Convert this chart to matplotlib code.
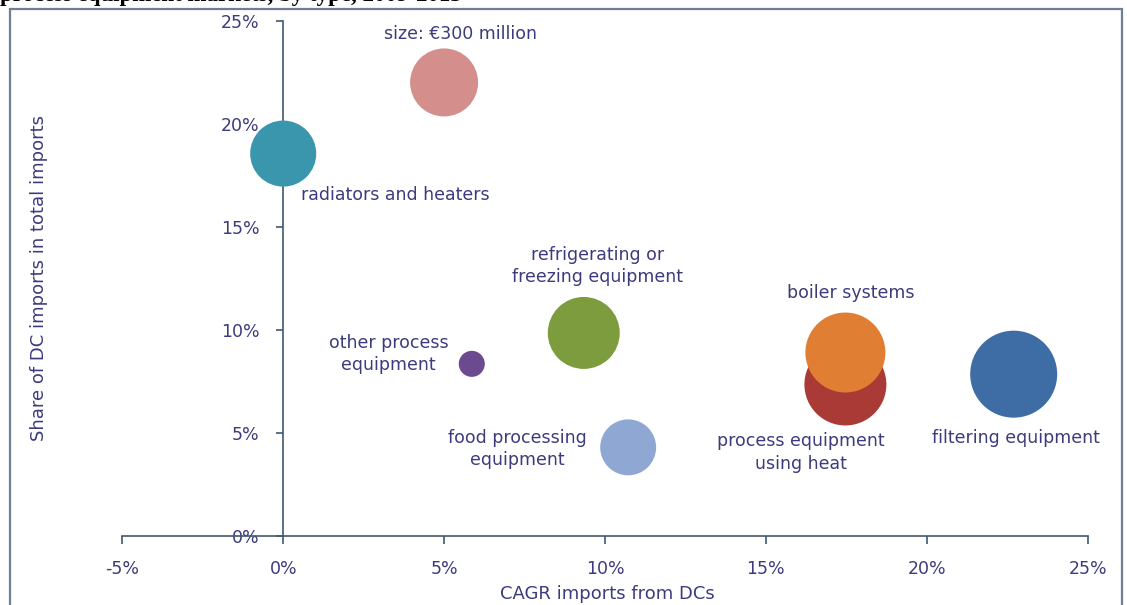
import matplotlib.pyplot as plt
from matplotlib.patches import Rectangle
from matplotlib.ticker import FuncFormatter

# bubble data: CAGR of imports from DCs (%), share of DC imports (%), size (EUR million)
namen = ["size: €300 million", "radiators and heaters", "other process\nequipment",
         "refrigerating or\nfreezing equipment", "food processing\nequipment",
         "process equipment\nusing heat", "boiler systems", "filtering equipment"]
cagr = [5.0, 0.0, 5.86, 9.34, 10.72, 17.47, 17.47, 22.7]
anteil = [22.0, 18.55, 8.35, 9.85, 4.3, 7.35, 8.9, 7.85]
groesse = [300, 283, 44, 336, 203, 436, 415, 491]
farben = ["#d48e8c", "#3a96ad", "#6b4a90", "#7c9c3d", "#8ea7d3", "#a93a36", "#e07e33", "#3e6ca5"]

# label placement (offset in points from the bubble centre, alignment)
label_pos = [
    (11.5, 35, "center"),
    (12.5, -30, "left"),
    (-60, 7, "center"),
    (10, 48, "center"),
    (-80, -1, "center"),
    (-32, -49, "center"),
    (3.6, 43, "center"),
    (1.5, -46, "center"),
]

textfarbe = "#3b3b7e"
achsfarbe = "#3f5a70"
fs = 12.5

fig = plt.figure(figsize=(11.27, 6.05), dpi=100)
fig.patch.set_facecolor("white")

# frame around the chart
fig.patches.append(Rectangle((10 / 1127, -0.05), 1112 / 1127, 1 - 9 / 605 + 0.05,
                             transform=fig.transFigure, fill=False,
                             edgecolor="#6e7f92", linewidth=1.6))
fig.text(0.0, 1 - 1.5 / 605, "process equipment markets, by type, 2009-2013",
         family="Liberation Serif", weight="bold", fontsize=16.5, color="black",
         va="baseline", ha="left")

ax = fig.add_axes([122.3 / 1127, 1 - 536 / 605, (1087.7 - 122.3) / 1127, (536 - 20.6) / 605])
ax.set_xlim(-5, 25)
ax.set_ylim(0, 25)

skala = 2397 / 300
ax.scatter(cagr, anteil, s=[g * skala for g in groesse], c=farben, linewidths=0,
           clip_on=False, zorder=3)

for name, x, y, (dx, dy, ha) in zip(namen, cagr, anteil, label_pos):
    ax.annotate(name, (x, y), xytext=(dx, dy), textcoords="offset points",
                ha=ha, va="center", fontsize=fs, color=textfarbe,
                linespacing=1.3, zorder=4)

for seite in ["top", "right"]:
    ax.spines[seite].set_visible(False)
ax.spines["left"].set_position(("data", 0))
for seite in ["left", "bottom"]:
    ax.spines[seite].set_color(achsfarbe)
    ax.spines[seite].set_linewidth(1.2)

ax.set_xticks(range(-5, 30, 5))
ax.set_yticks(range(0, 30, 5))
prozent = FuncFormatter(lambda v, p: f"{v:.0f}%")
ax.xaxis.set_major_formatter(prozent)
ax.yaxis.set_major_formatter(prozent)
ax.tick_params(axis="x", direction="out", length=6, width=1.2, color=achsfarbe,
               labelcolor=textfarbe, labelsize=fs, pad=11)
ax.tick_params(axis="y", direction="out", length=5, width=1.2, color=achsfarbe,
               labelcolor=textfarbe, labelsize=fs, pad=12)

ax.set_xlabel("CAGR imports from DCs", fontsize=13, color=textfarbe)
ax.xaxis.set_label_coords(0.502, -0.095)
ax.set_ylabel("Share of DC imports in total imports", fontsize=13, color=textfarbe)
ax.yaxis.set_label_coords(-0.077, 0.5)
ax.patch.set_alpha(0)

fig.savefig("out.png", dpi=100)
